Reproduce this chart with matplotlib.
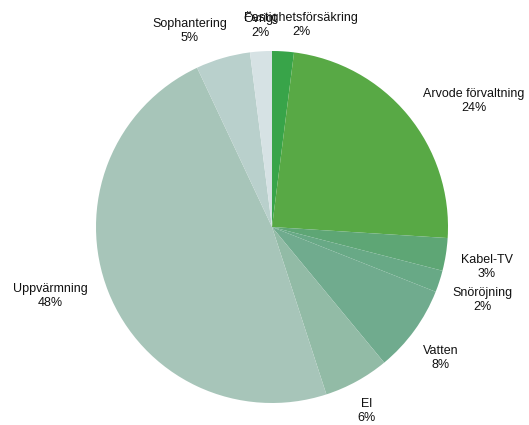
import matplotlib
matplotlib.use("Agg")
import matplotlib.pyplot as plt

# andelar av kostnaderna, medurs från kl 12
kategorier = ["Fastighetsförsäkring", "Arvode förvaltning", "Kabel-TV", "Snöröjning",
              "Vatten", "El", "Uppvärmning", "Sophantering", "Övrigt"]
procent = [2, 24, 3, 2, 8, 6, 48, 5, 2]

farger = ["#38a449", "#58a945", "#5ea675", "#68a986", "#70ab8e",
          "#92bba6", "#a7c5b9", "#b9d0cc", "#d6e2e4"]

# etikettlägen i pixlar (x, y från toppen)
etikett_pos = [(301, 25), (474, 101), (487, 267), (482, 300),
               (441, 358), (367, 411), (50, 296), (190, 31), (260, 25)]

W, H = 529, 425
fig = plt.figure(figsize=(W / 100, H / 100), dpi=100)
ax = fig.add_axes([0, 0, 1, 1])
ax.set_xlim(0, W)
ax.set_ylim(0, H)
ax.set_aspect("equal")
ax.axis("off")

ax.pie(procent, colors=farger, startangle=90, counterclock=False,
       center=(272, H - 227), radius=176, frame=True,
       wedgeprops=dict(linewidth=0))
ax.set_xlim(0, W)
ax.set_ylim(0, H)
ax.axis("off")

for namn, p, (x, y) in zip(kategorier, procent, etikett_pos):
    ax.text(x, H - y, f"{namn}\n{p}%", ha="center", va="center",
            fontsize=9, family="Liberation Sans", color="#111111",
            linespacing=1.15)

fig.savefig("out.png", dpi=100)
